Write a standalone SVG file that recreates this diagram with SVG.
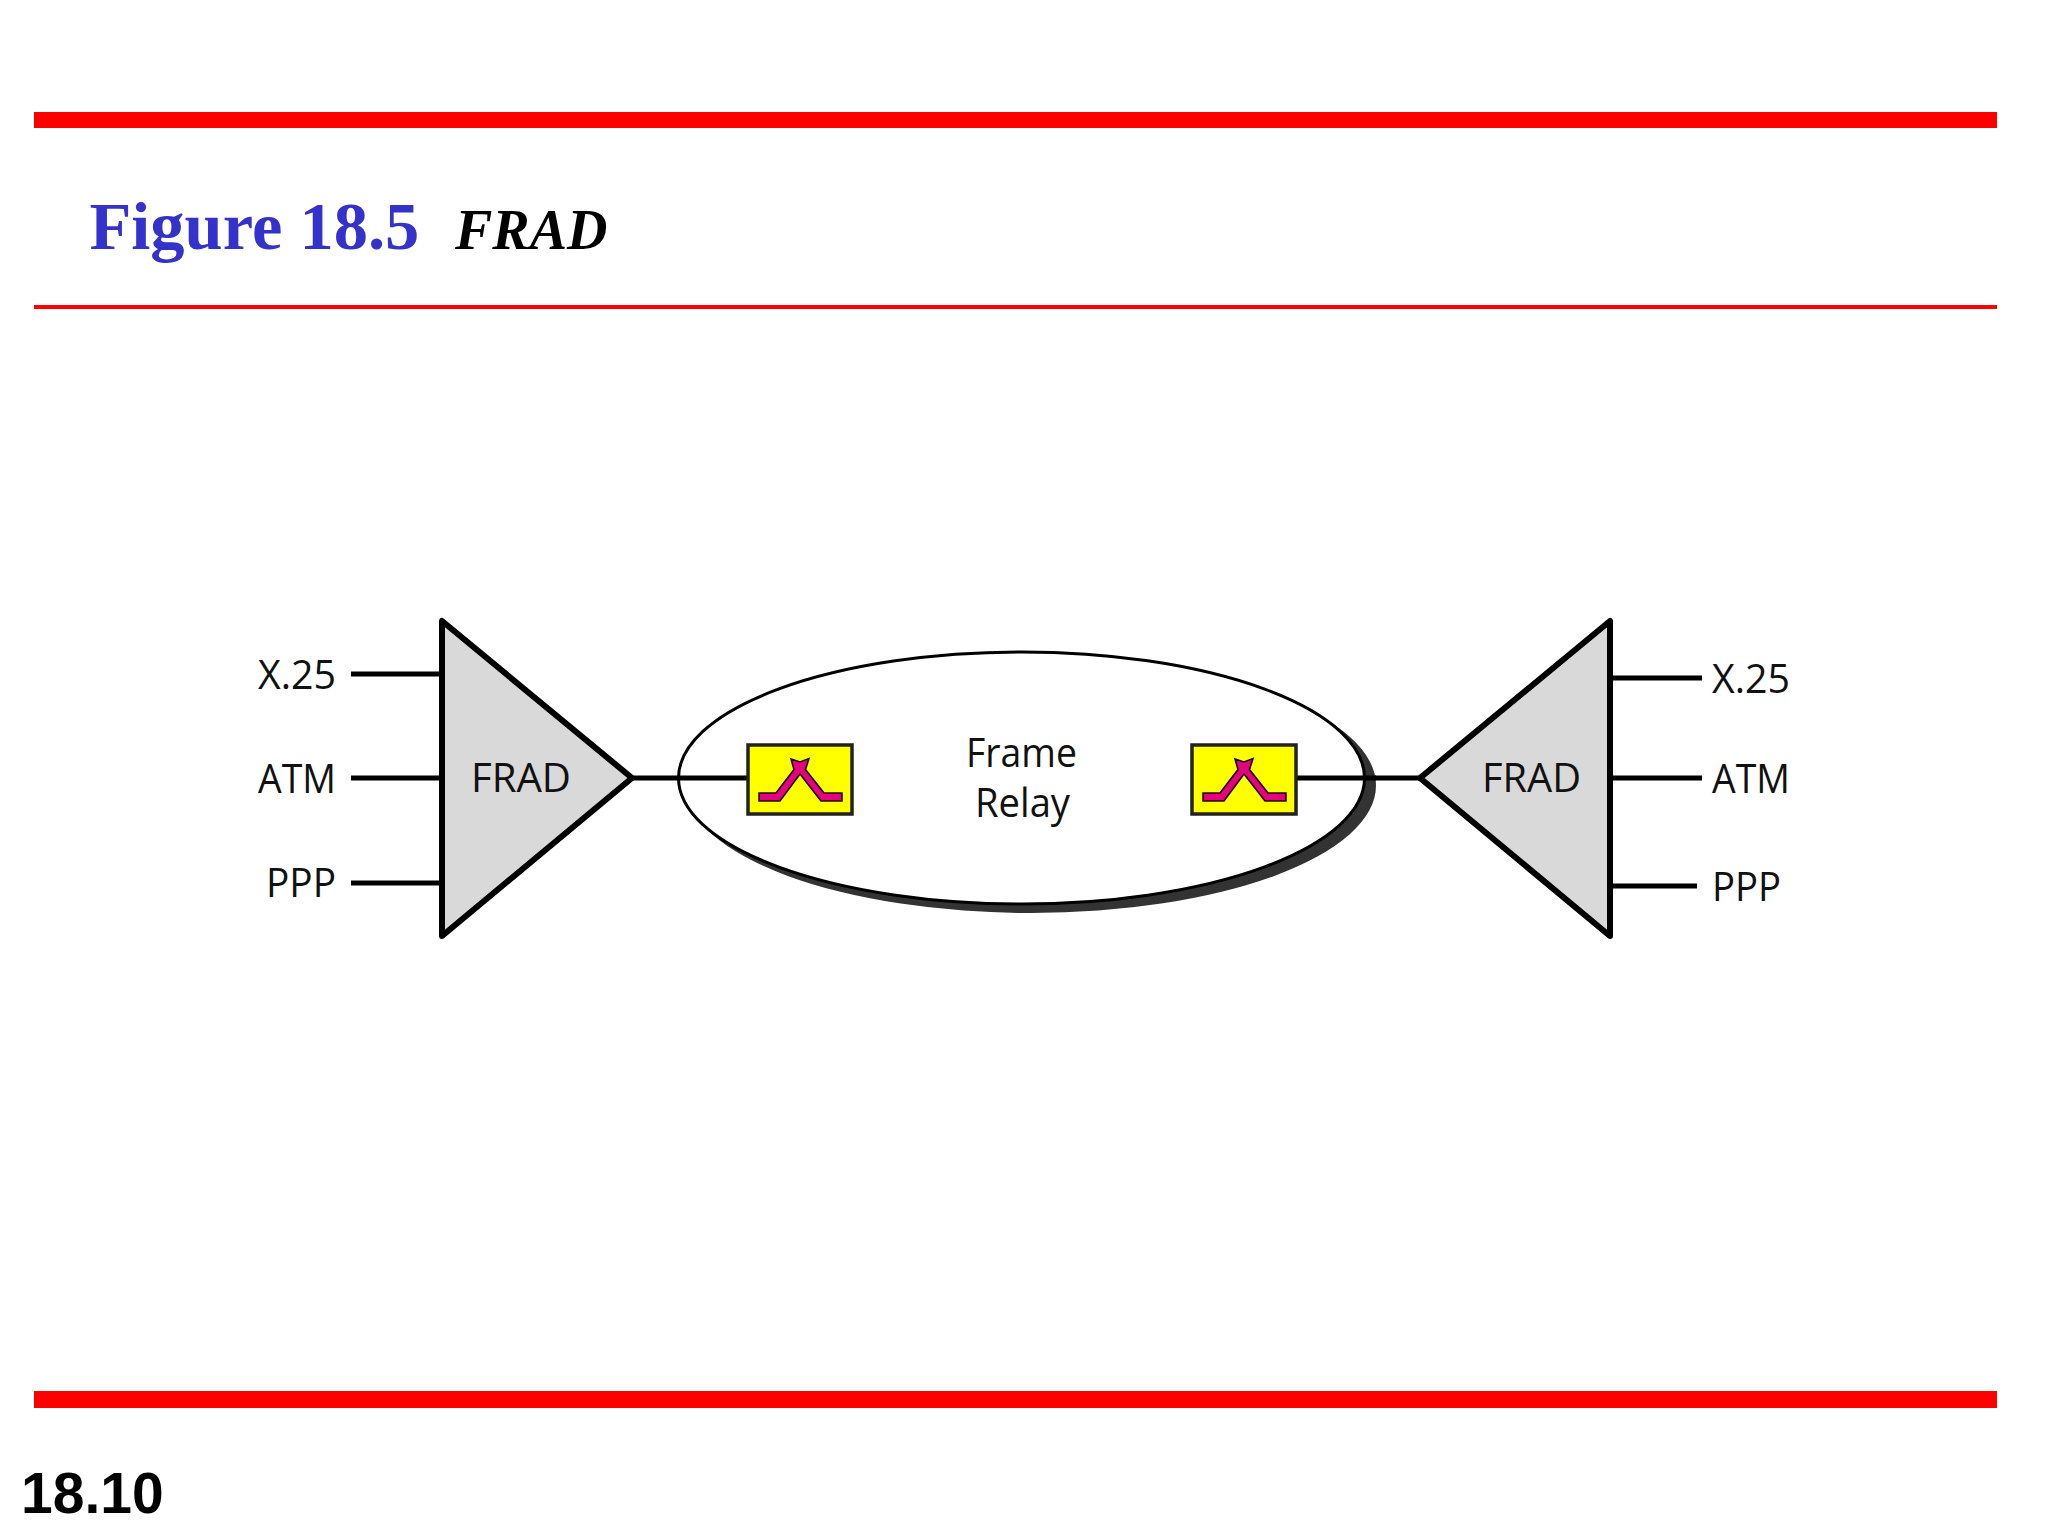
<svg xmlns="http://www.w3.org/2000/svg" width="2048" height="1536" viewBox="0 0 2048 1536">
<style>
.bar{fill:#ff0000}
.lbl{font-family:"Open Sans","Liberation Sans",sans-serif;font-size:41px;fill:#111}
.tri{fill:#d9d9d9;stroke:#000;stroke-width:6;stroke-linejoin:round}
.wire{stroke:#000;stroke-width:5;fill:none}
.sw{fill:#ffff00;stroke:#222;stroke-width:3.5}
.gl{fill:#e6007e;stroke:#111;stroke-width:1.6;stroke-linejoin:miter}
</style>
<defs>
<g id="switch">
<rect class="sw" x="748" y="745" width="104" height="69"/>
<path class="gl" d="M759 793H776L794 769.500L791 759L800 762L809 758.500L805.500 769.500L824 793H842V801H821L800 774L780 801H759Z"/>
</g>
</defs>
<rect width="2048" height="1536" fill="#fff"/>
<g id="frame-lines">
<rect class="bar" x="34" y="112" width="1963" height="16"/>
<rect class="bar" x="34" y="305" width="1963" height="4"/>
<rect class="bar" x="34" y="1391" width="1963" height="17"/>
</g>
<g id="title">
<text x="89.500" y="249" font-family="'Liberation Serif',serif" font-weight="700" font-size="68.500" fill="#3333cc">Figure 18.5</text>
<text x="455" y="249" font-family="'Liberation Serif',serif" font-weight="700" font-style="italic" font-size="56" fill="#000">FRAD</text>
</g>
<g id="connectors">
<path class="wire" d="M351 674H442M351 778H442M351 883H442M632 778H748M1297 778H1420M1610 678H1702M1610 778H1702M1610 886H1697"/>
</g>
<g id="frame-relay">
<ellipse cx="1031" cy="785.500" rx="345" ry="127.500" fill="#333"/>
<ellipse cx="1021.500" cy="778" rx="343" ry="126" fill="#fff" stroke="#000" stroke-width="3"/>
<path class="wire" d="M677 778H748M1297 778H1376"/>
<text class="lbl" x="966" y="767" textLength="111" lengthAdjust="spacingAndGlyphs">Frame</text>
<text class="lbl" x="975" y="817" textLength="95" lengthAdjust="spacingAndGlyphs">Relay</text>
</g>
<g id="switch-left"><use href="#switch"/></g>
<g id="switch-right"><use href="#switch" x="444"/></g>
<g id="frad-left">
<path class="tri" d="M442 621V936L632 778Z"/>
<text class="lbl" x="471" y="792" textLength="100" lengthAdjust="spacingAndGlyphs">FRAD</text>
</g>
<g id="frad-right">
<path class="tri" d="M1610 621V936L1420 778Z"/>
<text class="lbl" x="1482" y="792" textLength="99" lengthAdjust="spacingAndGlyphs">FRAD</text>
</g>
<g id="labels-left">
<text class="lbl" x="258" y="689" textLength="78" lengthAdjust="spacingAndGlyphs">X.25</text>
<text class="lbl" x="258" y="793" textLength="78" lengthAdjust="spacingAndGlyphs">ATM</text>
<text class="lbl" x="266" y="897" textLength="70" lengthAdjust="spacingAndGlyphs">PPP</text>
</g>
<g id="labels-right">
<text class="lbl" x="1712" y="692.500" textLength="78" lengthAdjust="spacingAndGlyphs">X.25</text>
<text class="lbl" x="1712" y="793" textLength="78" lengthAdjust="spacingAndGlyphs">ATM</text>
<text class="lbl" x="1712" y="901" textLength="69" lengthAdjust="spacingAndGlyphs">PPP</text>
</g>
<text id="page-number" x="21" y="1513" font-family="'Liberation Sans',sans-serif" font-weight="700" font-size="57" fill="#000">18.10</text>
</svg>
